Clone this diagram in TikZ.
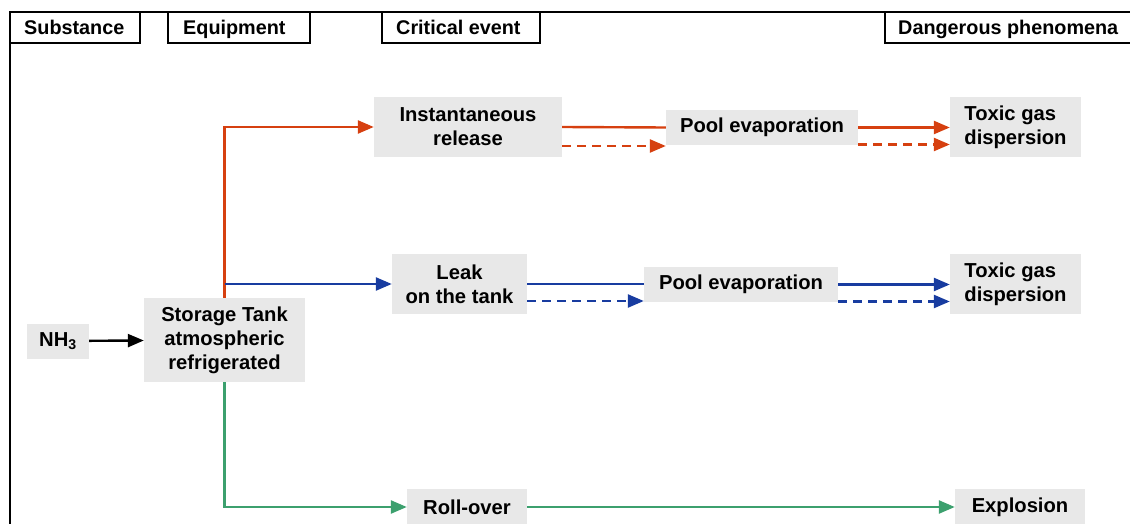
\documentclass[tikz,border=0pt]{standalone}
\usepackage{fontspec}
\setmainfont{Liberation Sans}
\usetikzlibrary{arrows.meta}
\definecolor{boxgray}{RGB}{232,232,232}
\definecolor{linered}{RGB}{214,64,16}
\definecolor{lineblue}{RGB}{24,60,160}
\definecolor{linegreen}{RGB}{60,160,110}
\tikzset{
  stepbox/.style={fill=boxgray, inner sep=0pt, align=center,
    font=\fontsize{20.2}{24}\selectfont\bfseries},
  headbox/.style={draw=black, line width=2pt, fill=white},
  headtext/.style={anchor=base west, inner sep=0pt,
    font=\fontsize{19.8}{22}\selectfont\bfseries},
  flow/.style={line width=2.4pt, -{Triangle[length=16pt,width=13pt]}},
  plain/.style={line width=2.4pt},
  bypass/.style={line width=2.4pt, dash pattern=on 9pt off 6pt, -{Triangle[length=16pt,width=13pt]}},
}
\begin{document}
\begin{tikzpicture}[x=1pt,y=-1pt]
\useasboundingbox (0,0) rectangle (1130,524);

% frame
\draw[line width=2.8pt] (10,524) -- (10,12) -- (1135,12);

% column headers
\draw[headbox] (10,12) rectangle (140,43);
\draw[headbox] (168,12) rectangle (310,43);
\draw[headbox] (382,12) rectangle (540,43);
\draw[headbox] (885,12) rectangle (1140,43);
\node[headtext] (hsub) at (24,34.5) {Substance};
\node[headtext] (hequ) at (183,34.5) {Equipment};
\node[headtext] (hcrit) at (396,34.5) {Critical event};
\node[headtext] (hdang) at (898,34.5) {Dangerous phenomena};

% steps
\node[stepbox, minimum width=62pt, minimum height=35pt] (nh3) at (58,341) {NH\textsubscript{3}};
\node[stepbox, minimum width=161pt, minimum height=84pt] (tank) at (224.5,340) {Storage Tank\\atmospheric\\refrigerated};
\node[stepbox, minimum width=188pt, minimum height=60pt] (inst) at (468,127) {Instantaneous\\release};
\node[stepbox, minimum width=192pt, minimum height=35pt] (pool1) at (762,127.5) {Pool evaporation};
\node[stepbox, minimum width=131pt, minimum height=60pt, align=left] (toxic1) at (1015.5,127) {Toxic gas\\dispersion};
\node[stepbox, minimum width=135pt, minimum height=60pt] (leak) at (459.5,284) {Leak\\on the tank};
\node[stepbox, minimum width=194pt, minimum height=35pt] (pool2) at (741,284.5) {Pool evaporation};
\node[stepbox, minimum width=131pt, minimum height=60pt, align=left] (toxic2) at (1015.5,284) {Toxic gas\\dispersion};
\node[stepbox, minimum width=120pt, minimum height=36pt] (roll) at (467,507) {Roll-over};
\node[stepbox, minimum width=130pt, minimum height=36pt] (expl) at (1020,507) {Explosion};

% feed
\draw[flow, black] (nh3) -- (tank);

% instantaneous release branch
\draw[flow, linered] (tank.north) |- (inst.west);
\draw[plain, linered] (inst.east) -- (pool1.west);
\coordinate (r1) at ([yshift=-19pt]inst.east);
\draw[bypass, linered] (r1) -- (r1 -| pool1.west);
\draw[flow, linered] (pool1.east) -- (pool1.east -| toxic1.west);
\coordinate (r2) at ([yshift=-17pt]pool1.east);
\draw[bypass, linered] (r2) -- (r2 -| toxic1.west);

% leak branch
\draw[flow, lineblue] (tank.north |- leak.west) -- (leak.west);
\draw[plain, lineblue] (leak.east) -- (leak.east -| pool2.west);
\coordinate (b1) at ([yshift=-17pt]leak.east);
\draw[bypass, lineblue] (b1) -- (b1 -| pool2.west);
\draw[flow, lineblue] (pool2.east) -- (pool2.east -| toxic2.west);
\coordinate (b2) at ([yshift=-17pt]pool2.east);
\draw[bypass, lineblue] (b2) -- (b2 -| toxic2.west);

% roll-over branch
\draw[flow, linegreen] (tank.south) |- (roll.west);
\draw[flow, linegreen] (roll.east) -- (expl.west);
\end{tikzpicture}
\end{document}
